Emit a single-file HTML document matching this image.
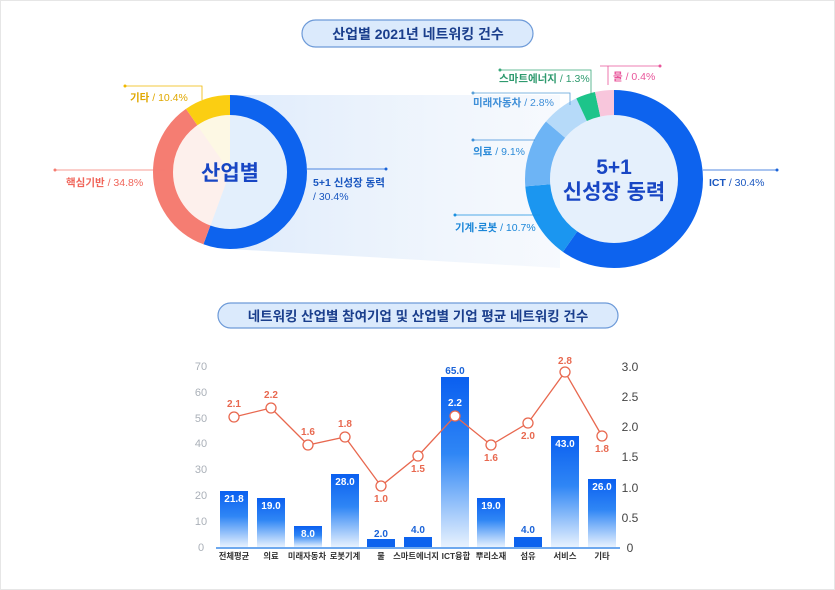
<!DOCTYPE html>
<html><head><meta charset="utf-8"><style>
body{margin:0;background:#fff;}
svg{display:block;font-family:"Liberation Sans","Noto Sans CJK KR",sans-serif;}
</style></head><body>
<svg width="835" height="590" viewBox="0 0 835 590">
<defs>
<linearGradient id="bar" x1="0" y1="0" x2="0" y2="1">
<stop offset="0" stop-color="#0a5ff0"/><stop offset="0.45" stop-color="#2f86f5"/><stop offset="1" stop-color="#e8f2fe"/>
</linearGradient>
<linearGradient id="proj" x1="0" y1="0" x2="1" y2="0">
<stop offset="0" stop-color="#dbe9fb" stop-opacity="0.9"/><stop offset="1" stop-color="#eef4fc" stop-opacity="0.5"/>
</linearGradient>
</defs>
<rect x="0.5" y="0.5" width="834" height="589" fill="#fff" stroke="#e6e6e6"/>
<polygon points="230,95 560,95 560,268 230,249" fill="url(#proj)"/>
<rect x="302" y="20" width="231" height="27" rx="13.5" fill="#dbeafc" stroke="#6d9ad8" stroke-width="1.2"/>
<text x="418" y="39" text-anchor="middle" font-size="14" font-weight="bold" fill="#1a3e8c">산업별 2021년 네트워킹 건수</text>
<!-- donut 1 -->
<circle cx="230" cy="172" r="57" fill="#fdf0ec"/>
<path d="M230,172 L230,115 A57,57 0 1 1 210.5,225.6 Z" fill="#e3effc"/>
<path d="M230,172 L230,115 A57,57 0 0 0 197,125 Z" fill="#fdf8e4"/>
<g transform="rotate(-90 230 172)" fill="none" stroke-width="20">
<circle cx="230" cy="172" r="67" stroke="#0d63ee" stroke-dasharray="234 421"/>
<circle cx="230" cy="172" r="67" stroke="#f57d72" stroke-dasharray="0 234 146 421"/>
<circle cx="230" cy="172" r="67" stroke="#fbce12" stroke-dasharray="0 380 41 421"/>
</g>
<text x="230" y="180" text-anchor="middle" font-size="21" font-weight="bold" fill="#1846c4">산업별</text>
<polyline points="125,86 202,86 202,100" fill="none" stroke="#f0b800" stroke-width="0.8"/><circle cx="125" cy="86" r="1.5" fill="#f0b800"/>
<text x="130" y="101" font-size="10.5" font-weight="bold" fill="#e0a800">기타 <tspan font-weight="normal">/ 10.4%</tspan></text>
<polyline points="55,170 165,170" fill="none" stroke="#f57d72" stroke-width="0.8"/><circle cx="55" cy="170" r="1.5" fill="#f57d72"/>
<text x="66" y="186" font-size="10.5" font-weight="bold" fill="#f0655a">핵심기반 <tspan font-weight="normal">/ 34.8%</tspan></text>
<polyline points="307,169 386,169" fill="none" stroke="#1a63d8" stroke-width="0.8"/><circle cx="386" cy="169" r="1.5" fill="#1a63d8"/>
<text x="313" y="186" font-size="10.5" font-weight="bold" fill="#1a57c0">5+1 신성장 동력</text>
<text x="313" y="200" font-size="10.5" fill="#1a57c0">/ 30.4%</text>
<!-- donut 2 -->
<circle cx="614" cy="179" r="64" fill="#e5f0fc"/>
<g transform="rotate(-90 614 179)" fill="none" stroke-width="25">
<circle cx="614" cy="179" r="76.5" stroke="#0d63ee" stroke-dasharray="287 481"/>
<circle cx="614" cy="179" r="76.5" stroke="#1b96f0" stroke-dasharray="0 287 67 481"/>
<circle cx="614" cy="179" r="76.5" stroke="#6db4f5" stroke-dasharray="0 354 60 481"/>
<circle cx="614" cy="179" r="76.5" stroke="#b6daf9" stroke-dasharray="0 414 33 481"/>
<circle cx="614" cy="179" r="76.5" stroke="#1dc48a" stroke-dasharray="0 447 17 481"/>
<circle cx="614" cy="179" r="76.5" stroke="#f8c6dc" stroke-dasharray="0 464 17 481"/>
</g>
<text x="614" y="174" text-anchor="middle" font-size="21" font-weight="bold" fill="#1846c4">5+1</text>
<text x="614" y="199" text-anchor="middle" font-size="21" font-weight="bold" fill="#1846c4">신성장 동력</text>
<polyline points="600,66 660,66" fill="none" stroke="#e8559a" stroke-width="0.8"/><polyline points="608,66 608,85" fill="none" stroke="#e8559a" stroke-width="0.8"/><circle cx="660" cy="66" r="1.5" fill="#e8559a"/>
<text x="613" y="80" font-size="10.5" font-weight="bold" fill="#e8559a">물 <tspan font-weight="normal">/ 0.4%</tspan></text>
<polyline points="500,70 591,70 591,95" fill="none" stroke="#3aa87a" stroke-width="0.8"/><circle cx="500" cy="70" r="1.5" fill="#3aa87a"/>
<text x="499" y="82" font-size="10.5" font-weight="bold" fill="#2e9a6e">스마트에너지 <tspan font-weight="normal">/ 1.3%</tspan></text>
<polyline points="473,93 570,93 570,105" fill="none" stroke="#5aa0d8" stroke-width="0.8"/><circle cx="473" cy="93" r="1.5" fill="#5aa0d8"/>
<text x="473" y="106" font-size="10.5" font-weight="bold" fill="#3f8fd8">미래자동차 <tspan font-weight="normal">/ 2.8%</tspan></text>
<polyline points="473,140 535,140" fill="none" stroke="#3f8fd8" stroke-width="0.8"/><circle cx="473" cy="140" r="1.5" fill="#3f8fd8"/>
<text x="473" y="155" font-size="10.5" font-weight="bold" fill="#2a8ad8">의료 <tspan font-weight="normal">/ 9.1%</tspan></text>
<polyline points="455,215 540,215" fill="none" stroke="#1a90e0" stroke-width="0.8"/><circle cx="455" cy="215" r="1.5" fill="#1a90e0"/>
<text x="455" y="231" font-size="10.5" font-weight="bold" fill="#1a86d8">기계·로봇 <tspan font-weight="normal">/ 10.7%</tspan></text>
<polyline points="703,170 777,170" fill="none" stroke="#1a63d8" stroke-width="0.8"/><circle cx="777" cy="170" r="1.5" fill="#1a63d8"/>
<text x="709" y="186" font-size="10.5" font-weight="bold" fill="#1a57c0">ICT <tspan font-weight="normal">/ 30.4%</tspan></text>
<rect x="218" y="303" width="400" height="25" rx="12.5" fill="#dbeafc" stroke="#6d9ad8" stroke-width="1.2"/>
<text x="418" y="321" text-anchor="middle" font-size="13.5" font-weight="bold" fill="#1a3e8c">네트워킹 산업별 참여기업 및 산업별 기업 평균 네트워킹 건수</text>
<g font-size="11" fill="#aab0b8" text-anchor="middle">
<text x="201" y="551">0</text><text x="201" y="525">10</text><text x="201" y="499">20</text><text x="201" y="473">30</text><text x="201" y="447">40</text><text x="201" y="422">50</text><text x="201" y="396">60</text><text x="201" y="370">70</text>
</g>
<g font-size="12" fill="#444" text-anchor="middle">
<text x="630" y="552">0</text><text x="630" y="522">0.5</text><text x="630" y="492">1.0</text><text x="630" y="461">1.5</text><text x="630" y="431">2.0</text><text x="630" y="401">2.5</text><text x="630" y="371">3.0</text>
</g>
<g fill="url(#bar)">
<rect x="220" y="491" width="28" height="56"/>
<rect x="257" y="498" width="28" height="49"/>
<rect x="294" y="526" width="28" height="21"/>
<rect x="331" y="474" width="28" height="73"/>
<rect x="367" y="539" width="28" height="8" fill="#0d63ee"/>
<rect x="404" y="537" width="28" height="10" fill="#0d63ee"/>
<rect x="441" y="377" width="28" height="170"/>
<rect x="477" y="498" width="28" height="49"/>
<rect x="514" y="537" width="28" height="10" fill="#0d63ee"/>
<rect x="551" y="436" width="28" height="111"/>
<rect x="588" y="479" width="28" height="68"/>
</g>
<line x1="216" y1="548" x2="620" y2="548" stroke="#3d8be8" stroke-width="1.5"/>
<g font-size="10" font-weight="bold" fill="#fff" text-anchor="middle">
<text x="234" y="502">21.8</text><text x="271" y="509">19.0</text><text x="308" y="537">8.0</text><text x="345" y="485">28.0</text>
<text x="455" y="374" fill="#1a63d8">65.0</text><text x="491" y="509">19.0</text><text x="565" y="447">43.0</text><text x="602" y="490">26.0</text>
<text x="381" y="537" fill="#1a63d8">2.0</text><text x="418" y="533" fill="#1a63d8">4.0</text><text x="528" y="533" fill="#1a63d8">4.0</text>
</g>
<polyline points="234,417 271,408 308,445 345,437 381,486 418,456 455,416 491,445 528,423 565,372 602,436" fill="none" stroke="#e8684f" stroke-width="1.3"/>
<g fill="#fff" stroke="#e8684f" stroke-width="1.3">
<circle cx="234" cy="417" r="5"/><circle cx="271" cy="408" r="5"/><circle cx="308" cy="445" r="5"/><circle cx="345" cy="437" r="5"/><circle cx="381" cy="486" r="5"/><circle cx="418" cy="456" r="5"/><circle cx="455" cy="416" r="5"/><circle cx="491" cy="445" r="5"/><circle cx="528" cy="423" r="5"/><circle cx="565" cy="372" r="5"/><circle cx="602" cy="436" r="5"/>
</g>
<g font-size="10" font-weight="bold" fill="#e8684f" text-anchor="middle">
<text x="234" y="407">2.1</text><text x="271" y="398">2.2</text><text x="308" y="435">1.6</text><text x="345" y="427">1.8</text><text x="381" y="502">1.0</text><text x="418" y="472">1.5</text>
<text x="455" y="406" fill="#fff">2.2</text><text x="491" y="461">1.6</text><text x="528" y="439">2.0</text><text x="565" y="364">2.8</text><text x="602" y="452">1.8</text>
</g>
<g font-size="8.3" font-weight="bold" fill="#333" text-anchor="middle">
<text x="234" y="559">전체평균</text><text x="271" y="559">의료</text><text x="307" y="559">미래자동차</text><text x="345" y="559">로봇기계</text><text x="381" y="559">물</text><text x="416" y="559">스마트에너지</text><text x="456" y="559">ICT융합</text><text x="491" y="559">뿌리소재</text><text x="528" y="559">섬유</text><text x="565" y="559">서비스</text><text x="602" y="559">기타</text>
</g>
</svg>
</body></html>
